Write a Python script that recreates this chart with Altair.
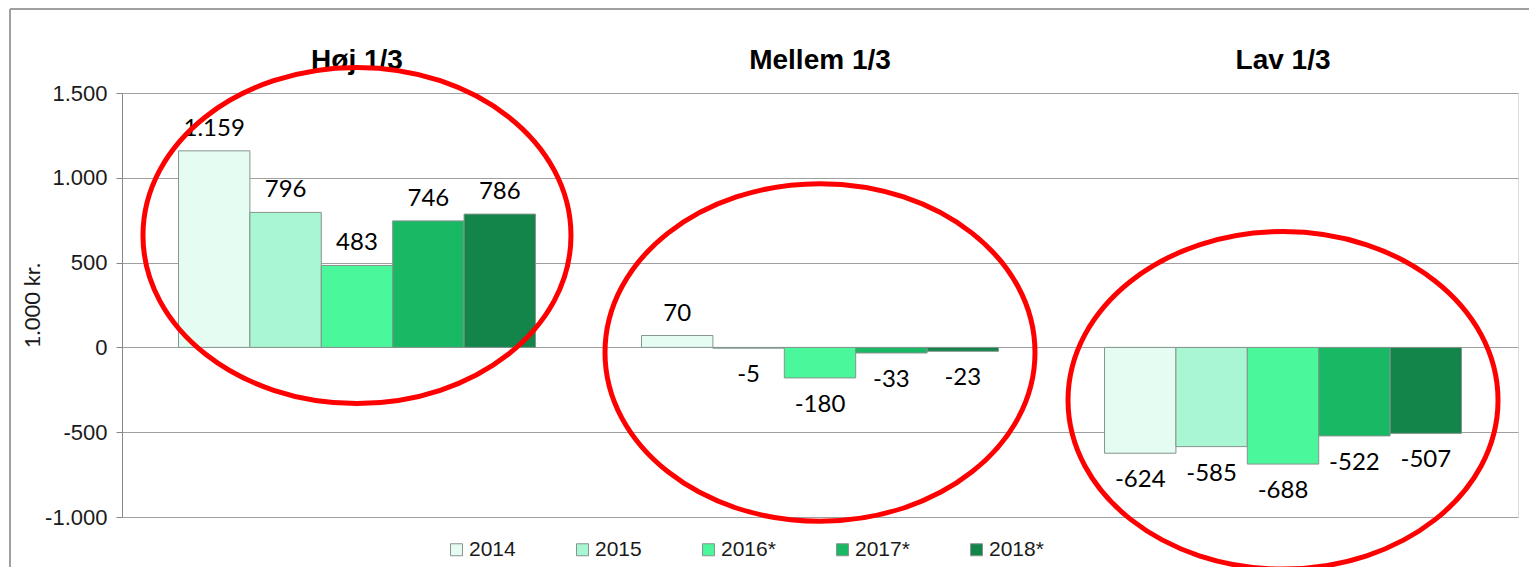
import altair as alt
import pandas as pd

groups = ["Høj 1/3", "Mellem 1/3", "Lav 1/3"]
years = ["2014", "2015", "2016*", "2017*", "2018*"]
hoj = [1159, 796, 483, 746, 786]
mellem = [70, -5, -180, -33, -23]
lav = [-624, -585, -688, -522, -507]
colors = ["#E4FCF1", "#A8F6D2", "#4AF79A", "#19B864", "#13844A"]
y_ticks = [-1000, -500, 0, 500, 1000, 1500]

# red annotation ellipses (centre value per group, width in px)
ellipse_center = [660, -30, -312]
ellipse_width = [428, 430, 430]

rows = []
for g, vals in zip(groups, [hoj, mellem, lav]):
    for yr, v in zip(years, vals):
        rows.append({"group": g, "year": yr, "value": v})
df = pd.DataFrame(rows)
ell = pd.DataFrame({"group": groups, "value": ellipse_center,
                    "s": [w * w for w in ellipse_width]})

x_enc = alt.X("group:N", sort=groups,
              scale=alt.Scale(paddingInner=0.229, paddingOuter=0.122),
              axis=alt.Axis(orient="top", title=None, ticks=False, domain=False,
                            labelFontSize=28, labelFontWeight="bold",
                            labelFont="Liberation Sans", labelColor="#000000",
                            labelBaseline="alphabetic",
                            labelPadding=25, labelAngle=0, grid=False))
x_plain = alt.X("group:N", sort=groups)
y_enc = alt.Y("value:Q",
              scale=alt.Scale(domain=[-1000, 1500], nice=False, zero=False),
              axis=alt.Axis(values=y_ticks, format=",d", title="1.000 kr.",
                            labelFont="Liberation Sans", labelFontSize=22,
                            labelColor="#1a1a1a", labelPadding=9,
                            tickSize=6, tickColor="#888888", domainColor="#888888",
                            gridColor="#a0a0a0", gridWidth=1,
                            titleFont="Lato", titleFontSize=22,
                            titleFontWeight="normal", titleColor="#1a1a1a",
                            titleAngle=270, titleX=-90, titleY=212,
                            titleAlign="center", titleBaseline="middle"))
xoff = alt.XOffset("year:N", sort=years, scale=alt.Scale(paddingInner=0, paddingOuter=0))

base = alt.Chart(df)

bars = base.mark_bar(stroke="#86958d", strokeWidth=1).encode(
    x=x_enc, y=y_enc, xOffset=xoff,
    color=alt.Color("year:N", sort=years,
                    scale=alt.Scale(domain=years, range=colors),
                    legend=alt.Legend(orient="none", legendX=324, legendY=446,
                                      direction="horizontal", columns=5,
                                      title=None, symbolType="square",
                                      symbolSize=144, symbolStrokeColor="#86958d",
                                      symbolStrokeWidth=1, labelFont="Liberation Sans",
                                      labelFontSize=21, labelColor="#1a1a1a",
                                      labelOffset=2, columnPadding=56)))

pos_text = base.transform_filter("datum.value >= 0").mark_text(
    font="Lato", fontSize=24, baseline="alphabetic", dy=-15, color="#000000"
).encode(x=x_plain, y="value:Q", xOffset=xoff,
         text=alt.Text("value:Q", format=",d"))

neg_text = base.transform_filter("datum.value < 0").mark_text(
    font="Lato", fontSize=24, baseline="alphabetic", dy=34, color="#000000"
).encode(x=x_plain, y="value:Q", xOffset=xoff,
         text=alt.Text("value:Q", format=",d"))

ellipse_path = "M -1 0 A 1 0.785 0 1 1 1 0 A 1 0.785 0 1 1 -1 0 Z"
ellipses = alt.Chart(ell).mark_point(
    shape=ellipse_path, filled=False, stroke="#ff0000", strokeWidth=5, opacity=1
).encode(x=x_plain, y="value:Q", size=alt.Size("s:Q", scale=None))

# outer chart frame (top and left edges visible in the reference)
frame_top = alt.Chart(ell).mark_rule(color="#a0a0a0", strokeWidth=2).encode(
    x=alt.value(-112), x2=alt.value(1407), y=alt.value(-84))
frame_left = alt.Chart(ell).mark_rule(color="#a0a0a0", strokeWidth=2).encode(
    x=alt.value(-112), y=alt.value(-84), y2=alt.value(474))

chart = alt.layer(bars, pos_text, neg_text, ellipses, frame_top, frame_left).properties(
    width=1396, height=424,
    autosize=alt.AutoSizeParams(type="none"),
    padding={"left": 114, "top": 85, "right": 11, "bottom": 50},
).configure_view(stroke=None).configure(background="#ffffff")

chart.save("out.html", embed_options={
    "renderer": "svg", "actions": False,
    "formatLocale": {"decimal": ",", "thousands": ".", "grouping": [3],
                     "currency": ["", " kr."], "minus": "-"}})
